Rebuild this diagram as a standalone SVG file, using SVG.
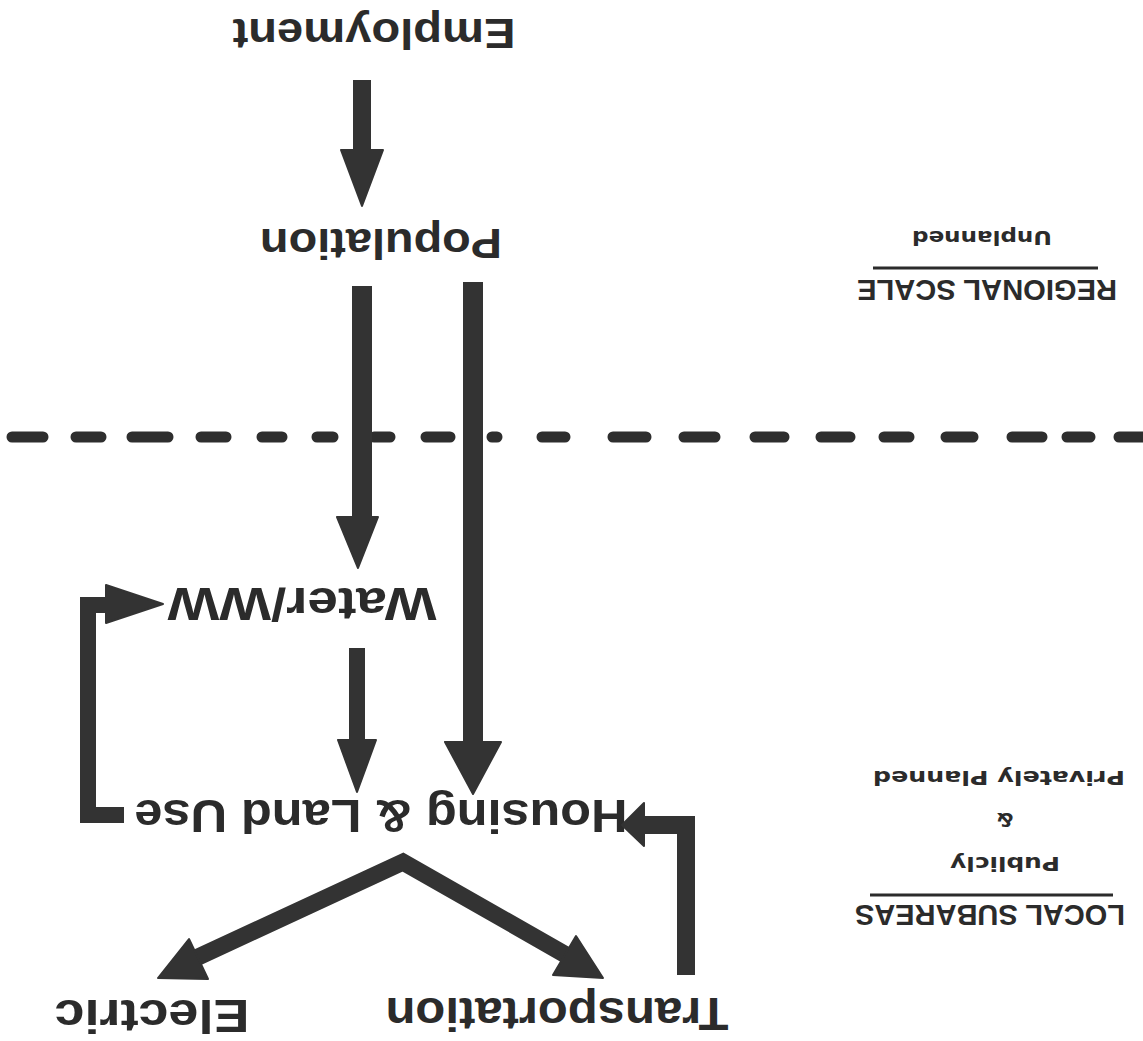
<svg xmlns="http://www.w3.org/2000/svg" width="1143" height="1041" viewBox="0 0 1143 1041">
  <style>
    .lbl { font-family: "Liberation Sans", Arial, sans-serif; font-weight: bold; fill: #2b2b2b; text-anchor: middle; }
    .hdr { font-size: 29px; }
    .sub { font-family: "DejaVu Sans", "Liberation Sans", sans-serif; font-size: 20px; }
    .stem { fill: none; stroke: #333; stroke-linecap: butt; stroke-linejoin: miter; }
    .head { fill: #333; stroke: #333; stroke-width: 2; stroke-linejoin: round; }
    .rule { stroke: #2b2b2b; stroke-width: 3; }
    .dash { fill: none; stroke: #2e2e2e; stroke-width: 11; stroke-linecap: round; }
  </style>
  <rect width="1143" height="1041" fill="#ffffff"/>

  <!-- scale divider -->
  <path class="dash" d="M12,437 H43 M76,437 H101 M132,437 H168 M201,437 H226 M262,437 H282 M317,437 H333 M374,437 H390 M426,437 H450 M492,437 H497 M542,437 H565 M613,437 H646 M684,437 H715 M755,437 H784 M821,437 H850 M884,437 H909 M946,437 H973 M1012,437 H1042 M1067,437 H1090 M1119,437 H1143"/>

  <!-- nodes -->
  <g id="employment"><text class="lbl" font-size="43" x="374" y="19" textLength="283" lengthAdjust="spacingAndGlyphs" transform="rotate(180 374 19)">Employment</text></g>
  <g id="population"><text class="lbl" font-size="43" x="381" y="229" textLength="242" lengthAdjust="spacingAndGlyphs" transform="rotate(180 381 229)">Population</text></g>
  <g id="water"><text class="lbl" font-size="47" x="302" y="588" textLength="269" lengthAdjust="spacingAndGlyphs" transform="rotate(180 302 588)">Water/WW</text></g>
  <g id="housing"><text class="lbl" font-size="47" x="381" y="800" textLength="493" lengthAdjust="spacingAndGlyphs" transform="rotate(180 381 800)">Housing &amp; Land Use</text></g>
  <g id="electric"><text class="lbl" font-size="47" x="152" y="1000" textLength="195" lengthAdjust="spacingAndGlyphs" transform="rotate(180 152 1000)">Electric</text></g>
  <g id="transportation"><text class="lbl" font-size="46" x="557" y="998" textLength="343" lengthAdjust="spacingAndGlyphs" transform="rotate(180 557 998)">Transportation</text></g>

  <g id="regional">
    <text class="lbl sub" x="982" y="231" textLength="140" lengthAdjust="spacingAndGlyphs" transform="rotate(180 982 231)">Unplanned</text>
    <line class="rule" x1="873" y1="268" x2="1098" y2="268"/>
    <text class="lbl hdr" x="987" y="280" textLength="260" lengthAdjust="spacingAndGlyphs" transform="rotate(180 987 280)">REGIONAL SCALE</text>
  </g>
  <g id="local">
    <text class="lbl sub" x="999" y="771" textLength="252" lengthAdjust="spacingAndGlyphs" transform="rotate(180 999 771)">Privately Planned</text>
    <text class="lbl sub" x="1005" y="813" transform="rotate(180 1005 813)">&amp;</text>
    <text class="lbl sub" x="1005" y="857" textLength="110" lengthAdjust="spacingAndGlyphs" transform="rotate(180 1005 857)">Publicly</text>
    <line class="rule" x1="870" y1="895" x2="1113" y2="895"/>
    <text class="lbl hdr" x="990" y="905" textLength="270" lengthAdjust="spacingAndGlyphs" transform="rotate(180 990 905)">LOCAL SUBAREAS</text>
  </g>

  <!-- connectors -->
  <g id="connectors">
    <path class="stem" stroke-width="18" d="M362,80 V152"/>
    <polygon class="head" points="341,150 383,150 362,206"/>

    <path class="stem" stroke-width="20" stroke="#3d3d3d" d="M362,286 V520"/>
    <polygon class="head" fill="#3d3d3d" stroke="#3d3d3d" points="337,517 378,517 358,568"/>

    <path class="stem" stroke-width="20" d="M473,282 V745"/>
    <polygon class="head" points="445,742 501,742 473,794"/>

    <path class="stem" stroke-width="16" d="M357,648 V742"/>
    <polygon class="head" points="338,740 376,740 357,792"/>

    <path class="stem" stroke-width="16" d="M124,815 H88 V605 H110"/>
    <polygon class="head" points="106,585 163,604 106,623"/>

    <path class="stem" stroke-width="17" d="M196,958 L403,862 L566,955"/>
    <polygon class="head" points="158,978 189,939 208,979"/>
    <polygon class="head" points="603,978 553,975 576,936"/>

    <path class="stem" stroke-width="18" d="M686,975 V825 H640"/>
    <polygon class="head" points="644,803 644,846 622,825"/>
  </g>
</svg>
